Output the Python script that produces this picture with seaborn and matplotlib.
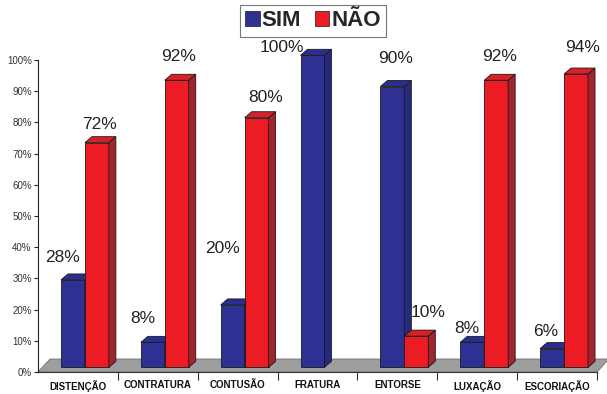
import matplotlib
matplotlib.use("Agg")
import matplotlib.pyplot as plt
from matplotlib.patches import Polygon, Patch
from matplotlib.transforms import IdentityTransform
import seaborn as sns
import pandas as pd

# data
categories = ["DISTENÇÃO", "CONTRATURA", "CONTUSÃO", "FRATURA", "ENTORSE", "LUXAÇÃO", "ESCORIAÇÃO"]
sim = [28, 8, 20, 100, 90, 8, 6]
nao = [72, 92, 80, 0, 10, 92, 94]
series = ["SIM", "NÃO"]

# look
FRONT = {"SIM": "#2E3192", "NÃO": "#ED1C24"}
TOP = {"SIM": "#2A2F8E", "NÃO": "#D91F27"}
SIDE = {"SIM": "#252A80", "NÃO": "#A3232E"}
EDGE = "#1a1a1a"
DEPTH = (7, 6)          # bar depth in pixels
FLOOR_DEPTH = (12, 13)  # floor depth in pixels
BAR_LIFT = 1.5          # bars stand a bit behind the front edge of the floor
SHIFT = 0.0875          # bars are drawn a little right of the category centre

# value label nudges (pixels from the top centre of each bar's front face)
label_nudge = {
    "SIM": [(-10, 22), (-10, 24), (-10, 56), (-31, 8), (3, 28), (-5, 14), (-6, 17)],
    "NÃO": [(3, 18), (2, 24), (9, 20), None, (12, 24), (3, 24), (7, 27)],
}

df = pd.DataFrame({
    "categoria": categories * 2,
    "serie": ["SIM"] * len(categories) + ["NÃO"] * len(categories),
    "valor": sim + nao,
})

sns.set_style("white")
plt.rcParams["font.family"] = ["Liberation Sans", "DejaVu Sans"]

fig = plt.figure(figsize=(6.07, 3.94), dpi=100)
ax = fig.add_axes([38 / 607, 22 / 394, 559 / 607, 312 / 394])

sns.barplot(data=df, x="categoria", y="valor", hue="serie", hue_order=series,
            palette=FRONT, width=0.6, edgecolor=EDGE, linewidth=0.6,
            saturation=1, legend=False, ax=ax)

ax.set_xlim(-0.5, 6.5)
ax.set_ylim(0, 100)

to_disp = ax.transData.transform
ident = IdentityTransform()

# floor
(fx0, fy0), (fx1, _) = to_disp([(-0.5, 0), (6.5, 0)])
fdx, fdy = FLOOR_DEPTH
ax.add_patch(Polygon([(fx0, fy0), (fx1, fy0), (fx1 + fdx, fy0 + fdy), (fx0 + fdx, fy0 + fdy)],
                     closed=True, facecolor="#9E9E9E", edgecolor="#6e6e6e",
                     linewidth=0.6, transform=ident, clip_on=False, zorder=0.5))

dx, dy = DEPTH
for k, (name, cont) in enumerate(zip(series, ax.containers)):
    z = 2 + k
    for i, bar in enumerate(cont.patches):
        bar.set_x(bar.get_x() + SHIFT)
        bar.set_y(BAR_LIFT)
        bar.set_zorder(z)
        bar.set_clip_on(False)
        h = bar.get_height()
        if h <= 0:
            bar.set_visible(False)
            continue
        x0, x1 = bar.get_x(), bar.get_x() + bar.get_width()
        (X0, Y0), (X1, Y1) = to_disp([(x0, BAR_LIFT), (x1, BAR_LIFT + h)])
        top = Polygon([(X0, Y1), (X1, Y1), (X1 + dx, Y1 + dy), (X0 + dx, Y1 + dy)],
                      closed=True, facecolor=TOP[name], edgecolor=EDGE, linewidth=0.6,
                      transform=ident, clip_on=False, zorder=z)
        side = Polygon([(X1, Y0), (X1, Y1), (X1 + dx, Y1 + dy), (X1 + dx, Y0 + dy)],
                       closed=True, facecolor=SIDE[name], edgecolor=EDGE, linewidth=0.6,
                       transform=ident, clip_on=False, zorder=z)
        ax.add_patch(side)
        ax.add_patch(top)

        nudge = label_nudge[name][i]
        if nudge is not None:
            ax.annotate(f"{h:g}%", xy=((x0 + x1) / 2, BAR_LIFT + h),
                        xytext=nudge, textcoords="offset pixels",
                        ha="center", va="center", fontsize=12.5, color="#222222",
                        annotation_clip=False, zorder=6)

# axes styling
for s in ["top", "right"]:
    ax.spines[s].set_visible(False)
ax.spines["left"].set_color("#222222")
ax.spines["left"].set_linewidth(0.8)
ax.spines["bottom"].set_color("#333333")
ax.spines["bottom"].set_linewidth(0.8)
ax.spines["bottom"].set_zorder(1)

ax.set_yticks(range(0, 101, 10))
ax.set_yticklabels([f"{v}%" for v in range(0, 101, 10)])
ax.tick_params(axis="y", direction="out", length=3, width=0.8, color="#222222",
               labelsize=7, labelcolor="#333333", pad=1.5, left=True)

ax.set_xticks(range(len(categories)))
ax.set_xticklabels(categories, fontweight="bold", fontsize=7, color="#111111")
ax.set_xticks([i + 0.5 for i in range(len(categories))], minor=True)
ax.tick_params(axis="x", which="major", length=0, pad=5.5)
ax.tick_params(axis="x", which="minor", direction="out", length=6, width=0.8,
               color="#333333", bottom=True)
ax.set_xlabel("")
ax.set_ylabel("")
ax.grid(False)

handles = [Patch(facecolor=FRONT[s], edgecolor=EDGE, linewidth=0.5, label=s) for s in series]
leg = fig.legend(handles=handles, loc="center", bbox_to_anchor=(313 / 607, 1 - 21 / 394),
                 ncol=2, prop={"weight": "bold", "size": 16},
                 frameon=True, fancybox=False, handlelength=0.65, handleheight=0.65,
                 handletextpad=0.1, columnspacing=0.6, borderpad=0.25, borderaxespad=0)
leg.get_frame().set_edgecolor("#555555")
leg.get_frame().set_linewidth(0.8)

fig.savefig("out.png", dpi=100)
